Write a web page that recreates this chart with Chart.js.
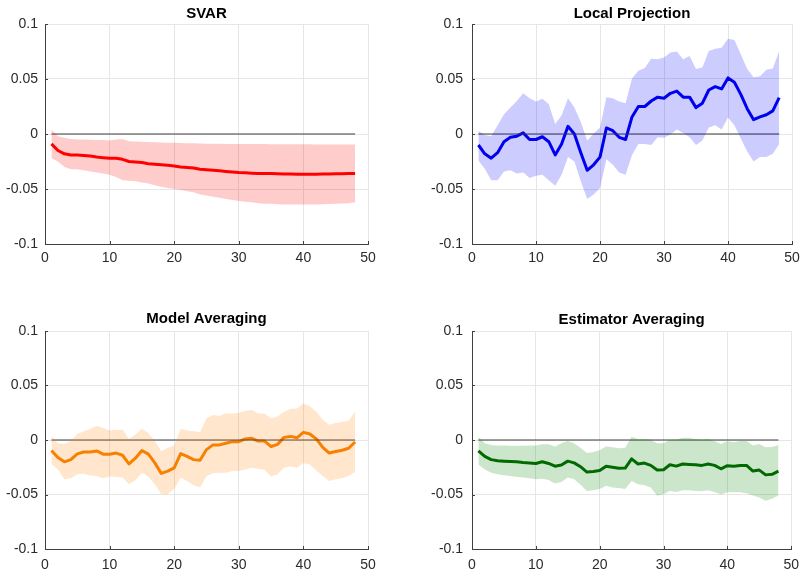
<!DOCTYPE html>
<html>
<head>
<meta charset="utf-8">
<script src="https://cdn.jsdelivr.net/npm/chart.js@4.4.0/dist/chart.umd.min.js"></script>
<style>
  html, body { margin: 0; padding: 0; background: #fff; }
  #wrap { position: relative; width: 807px; height: 578px; overflow: hidden; }
  canvas { position: absolute; }
</style>
</head>
<body>
<div id="wrap">
  <canvas id="c1" style="left:0;top:0" width="400" height="289"></canvas>
  <canvas id="c2" style="left:400px;top:0" width="407" height="289"></canvas>
  <canvas id="c3" style="left:0;top:289px" width="400" height="289"></canvas>
  <canvas id="c4" style="left:400px;top:289px" width="407" height="289"></canvas>
</div>
<script>
const horizon = [1,2,3,4,5,6,7,8,9,10,11,12,13,14,15,16,17,18,19,20,21,22,23,24,
                 25,26,27,28,29,30,31,32,33,34,35,36,37,38,39,40,41,42,43,44,45,46,47,48];
const zeroLine = [0, 0];
const xTicks = [0, 10, 20, 30, 40, 50];
const yTicks = [-0.1, -0.05, 0, 0.05, 0.1];

// SVAR
const svarMid = [-0.009,-0.015,-0.018,-0.019,-0.019,-0.0195,-0.020,-0.021,-0.0215,-0.022,-0.022,-0.023,
                 -0.025,-0.0255,-0.026,-0.027,-0.0275,-0.028,-0.0285,-0.029,-0.030,-0.0305,-0.031,-0.032,
                 -0.0325,-0.033,-0.0335,-0.034,-0.0345,-0.035,-0.0353,-0.0356,-0.0358,-0.036,-0.036,-0.0362,
                 -0.0363,-0.0364,-0.0365,-0.0365,-0.0365,-0.0365,-0.0364,-0.0363,-0.0362,-0.0361,-0.036,-0.0358];
const svarHi = [0.004,-0.002,-0.0035,-0.0045,-0.005,-0.005,-0.0052,-0.0055,-0.0055,-0.0058,-0.005,-0.0045,
                -0.0065,-0.0068,-0.007,-0.0072,-0.0075,-0.0078,-0.008,-0.008,-0.0082,-0.0084,-0.0085,-0.0087,
                -0.0088,-0.0088,-0.0089,-0.009,-0.009,-0.009,-0.0091,-0.0092,-0.0092,-0.0092,-0.0093,-0.0093,
                -0.0093,-0.0094,-0.0094,-0.0094,-0.0094,-0.0095,-0.0095,-0.0095,-0.0095,-0.0095,-0.0095,-0.0095];
const svarLo = [-0.022,-0.025,-0.030,-0.032,-0.032,-0.033,-0.034,-0.035,-0.036,-0.037,-0.039,-0.042,
                -0.0425,-0.043,-0.044,-0.045,-0.0465,-0.048,-0.049,-0.050,-0.051,-0.052,-0.053,-0.055,
                -0.056,-0.057,-0.058,-0.059,-0.060,-0.061,-0.0615,-0.062,-0.063,-0.0633,-0.0635,-0.0638,
                -0.064,-0.064,-0.064,-0.064,-0.064,-0.064,-0.0638,-0.0636,-0.0635,-0.0632,-0.063,-0.062];

// Local Projection
const lpMid = [-0.010,-0.018,-0.022,-0.017,-0.007,-0.003,-0.002,0.001,-0.005,-0.005,-0.0025,-0.007,
               -0.019,-0.009,0.007,0.000,-0.017,-0.033,-0.028,-0.021,0.0055,0.003,-0.003,-0.005,
               0.0155,0.025,0.025,0.030,0.0335,0.0325,0.037,0.039,0.0335,0.0335,0.024,0.028,
               0.040,0.043,0.041,0.051,0.047,0.036,0.023,0.013,0.0155,0.0175,0.021,0.033];
const lpHi = [0.003,-0.001,-0.002,0.008,0.018,0.024,0.030,0.037,0.0325,0.0295,0.032,0.027,
              0.009,0.017,0.0325,0.024,0.011,-0.006,0.0003,0.006,0.0335,0.0325,0.0295,0.028,
              0.0505,0.0575,0.060,0.0685,0.068,0.0695,0.074,0.075,0.068,0.071,0.059,0.0605,
              0.0755,0.0775,0.0785,0.0865,0.0855,0.0725,0.059,0.0515,0.0525,0.0585,0.0595,0.0755];
const lpLo = [-0.024,-0.0315,-0.042,-0.042,-0.034,-0.033,-0.036,-0.035,-0.040,-0.038,-0.037,-0.042,
              -0.047,-0.037,-0.021,-0.025,-0.043,-0.059,-0.055,-0.049,-0.023,-0.028,-0.035,-0.037,
              -0.019,-0.009,-0.009,-0.010,-0.003,-0.0035,-0.0005,0.004,0.001,-0.003,-0.010,-0.006,
              0.006,0.008,0.004,0.015,0.008,-0.004,-0.016,-0.025,-0.021,-0.021,-0.018,-0.009];

// Model Averaging
const maMid = [-0.0097,-0.016,-0.020,-0.018,-0.0127,-0.011,-0.011,-0.010,-0.013,-0.013,-0.012,-0.014,
               -0.022,-0.0167,-0.0097,-0.013,-0.021,-0.0306,-0.0285,-0.0255,-0.0124,-0.015,-0.018,-0.0185,
               -0.0088,-0.0045,-0.0045,-0.003,-0.0015,-0.0015,0.001,0.0015,-0.001,-0.001,-0.006,-0.004,
               0.0024,0.0033,0.002,0.007,0.0055,0.001,-0.0067,-0.012,-0.0106,-0.0094,-0.0076,-0.0018];
const maHi = [0.004,-0.003,-0.0036,-0.001,0.0055,0.008,0.010,0.013,0.011,0.0088,0.0094,0.0094,
              0.001,0.005,0.0103,0.0064,-0.001,-0.0103,-0.007,-0.005,0.010,0.0088,0.008,0.007,
              0.020,0.023,0.022,0.0245,0.024,0.025,0.0267,0.0276,0.0245,0.024,0.020,0.0215,
              0.026,0.0285,0.029,0.0336,0.031,0.026,0.0185,0.014,0.0155,0.0164,0.0176,0.026];
const maLo = [-0.022,-0.027,-0.036,-0.035,-0.0315,-0.031,-0.0325,-0.033,-0.035,-0.0336,-0.034,-0.0345,
              -0.0406,-0.037,-0.030,-0.0336,-0.0406,-0.0497,-0.0497,-0.045,-0.0345,-0.0376,-0.0415,-0.0436,
              -0.033,-0.0306,-0.030,-0.030,-0.0285,-0.0285,-0.027,-0.0255,-0.0264,-0.0276,-0.0336,-0.0315,
              -0.0255,-0.024,-0.0255,-0.021,-0.0224,-0.028,-0.033,-0.0376,-0.036,-0.035,-0.033,-0.0294];

// Estimator Averaging
const eaMid = [-0.010,-0.015,-0.018,-0.019,-0.0194,-0.0197,-0.020,-0.0206,-0.021,-0.0215,-0.020,-0.0215,
               -0.024,-0.023,-0.0194,-0.021,-0.0245,-0.0294,-0.0288,-0.028,-0.024,-0.025,-0.026,-0.0258,
               -0.0173,-0.022,-0.0212,-0.0233,-0.0276,-0.0273,-0.0227,-0.024,-0.022,-0.0224,-0.0227,-0.0233,
               -0.022,-0.0233,-0.0264,-0.0236,-0.024,-0.0233,-0.0233,-0.0285,-0.0276,-0.032,-0.0315,-0.0285];
const eaHi = [0.003,-0.003,-0.0045,-0.005,-0.005,-0.0052,-0.0052,-0.0053,-0.005,-0.005,-0.004,-0.004,
              -0.006,-0.003,-0.001,-0.003,-0.007,-0.012,-0.011,-0.0094,-0.006,-0.0067,-0.0076,-0.007,
              0.003,0.001,0.001,0.0003,-0.003,-0.003,0.0003,0.0003,0.002,0.002,0.001,0.0003,
              0.001,-0.001,-0.0036,-0.001,-0.002,-0.001,-0.001,-0.005,-0.0036,-0.0067,-0.0064,-0.0045];
const eaLo = [-0.0224,-0.027,-0.030,-0.0315,-0.0324,-0.033,-0.034,-0.0345,-0.035,-0.036,-0.0355,-0.0367,
              -0.040,-0.0385,-0.0345,-0.036,-0.041,-0.0467,-0.046,-0.045,-0.042,-0.0436,-0.044,-0.045,
              -0.0376,-0.0406,-0.0415,-0.0436,-0.0512,-0.0497,-0.0467,-0.0476,-0.046,-0.046,-0.0467,-0.047,
              -0.046,-0.0476,-0.050,-0.048,-0.048,-0.048,-0.0488,-0.051,-0.0527,-0.0558,-0.054,-0.051];

const FONT = '"Liberation Sans", Arial, Helvetica, sans-serif';

const pts = arr => arr.map((v, i) => ({ x: horizon[i], y: v }));

// MATLAB-like title drawn over the axes and inward tick marks
const matlabLook = {
  id: 'matlabLook',
  afterDraw(chart, args, opts) {
    const ctx = chart.ctx;
    const a = chart.chartArea;
    ctx.save();
    ctx.fillStyle = '#000';
    ctx.font = 'bold 15px ' + FONT;
    ctx.textAlign = 'center';
    ctx.textBaseline = 'middle';
    ctx.fillText(opts.text, (a.left + a.right) / 2, a.top - opts.offset);

    ctx.strokeStyle = '#404040';
    ctx.lineWidth = 1;
    ctx.beginPath();
    const xs = chart.scales.x, ys = chart.scales.y;
    xTicks.forEach(t => {
      const px = Math.round(xs.getPixelForValue(t)) + 0.5;
      ctx.moveTo(px, a.bottom);
      ctx.lineTo(px, a.bottom - 3);
    });
    yTicks.forEach(t => {
      const py = Math.round(ys.getPixelForValue(t)) + 0.5;
      ctx.moveTo(a.left, py);
      ctx.lineTo(a.left + 3, py);
    });
    ctx.stroke();
    ctx.restore();
  }
};

function makePanel(id, title, mid, lo, hi, lineColor, bandColor, lay) {
  new Chart(document.getElementById(id), {
    type: 'line',
    data: {
      datasets: [
        { data: pts(lo), borderWidth: 0, pointRadius: 0, fill: false, tension: 0 },
        { data: pts(hi), borderWidth: 0, pointRadius: 0, fill: '-1', backgroundColor: bandColor, tension: 0 },
        { data: [{ x: horizon[0], y: zeroLine[0] }, { x: horizon[horizon.length - 1], y: zeroLine[1] }],
          borderColor: '#3c3c3c', borderWidth: 1, pointRadius: 0, fill: false },
        { data: pts(mid), borderColor: lineColor, borderWidth: 3, pointRadius: 0, fill: false, tension: 0,
          borderJoinStyle: 'round' }
      ]
    },
    options: {
      responsive: false,
      animation: false,
      layout: { padding: { top: lay.top, right: lay.right, bottom: lay.bottom, left: 0 } },
      plugins: {
        legend: { display: false },
        tooltip: { enabled: false },
        matlabLook: { text: title, offset: lay.titleOffset }
      },
      scales: {
        x: {
          type: 'linear', min: 0, max: 50,
          afterBuildTicks: s => { s.ticks = xTicks.map(v => ({ value: v })); },
          afterFit: s => { s.height = 20; },
          ticks: { color: '#2b2b2b', font: { family: FONT, size: 14 }, padding: lay.xPad, maxRotation: 0 },
          grid: { color: ctx => ctx.tick && ctx.tick.value === 0 ? 'rgba(0,0,0,0)' : '#e6e6e6', drawTicks: false },
          border: { color: '#404040' }
        },
        y: {
          min: -0.1, max: 0.1,
          afterBuildTicks: s => { s.ticks = yTicks.map(v => ({ value: v })); },
          afterFit: s => { s.width = lay.yWidth; },
          ticks: {
            color: '#2b2b2b', font: { family: FONT, size: 14 }, padding: lay.yPad,
            callback: v => String(Number(v.toFixed(3)))
          },
          grid: { color: ctx => ctx.tick && ctx.tick.value === -0.1 ? 'rgba(0,0,0,0)' : '#e6e6e6', drawTicks: false },
          border: { color: '#404040' }
        }
      }
    },
    plugins: [matlabLook]
  });
}

makePanel('c1', 'SVAR', svarMid, svarLo, svarHi, '#ff0000', 'rgba(255,0,0,0.2)',
  { top: 24, right: 32, bottom: 25, yWidth: 45, yPad: 7, xPad: 6, titleOffset: 10 });
makePanel('c2', 'Local Projection', lpMid, lpLo, lpHi, '#0000ee', 'rgba(0,0,255,0.2)',
  { top: 24, right: 15, bottom: 25, yWidth: 72, yPad: 9, xPad: 6, titleOffset: 10 });
makePanel('c3', 'Model Averaging', maMid, maLo, maHi, '#f58000', 'rgba(255,128,0,0.2)',
  { top: 42, right: 32, bottom: 9, yWidth: 45, yPad: 7, xPad: 8, titleOffset: 12 });
makePanel('c4', 'Estimator Averaging', eaMid, eaLo, eaHi, '#006400', 'rgba(0,128,0,0.2)',
  { top: 42, right: 15, bottom: 9, yWidth: 72, yPad: 9, xPad: 8, titleOffset: 11 });
</script>
</body>
</html>
